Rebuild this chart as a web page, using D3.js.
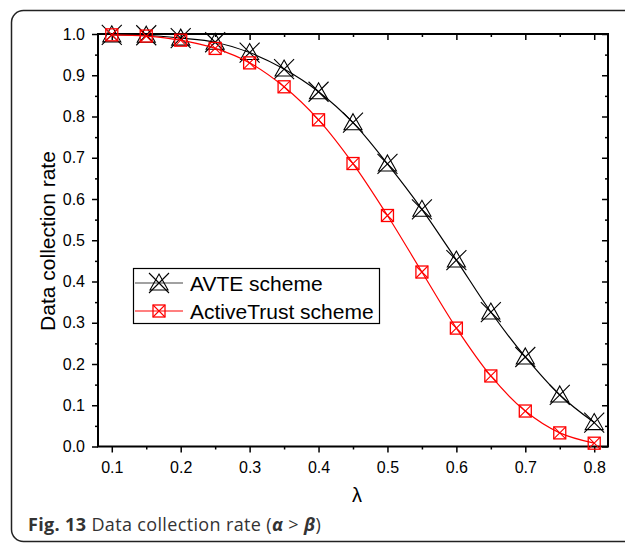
<!DOCTYPE html>
<html>
<head>
<meta charset="utf-8">
<script src="https://cdn.jsdelivr.net/npm/d3@7"></script>
<style>
  html, body { margin: 0; padding: 0; background: #fff; }
  svg { display: block; }
</style>
</head>
<body>
<svg id="chart" width="625" height="544"></svg>
<script>
// λ values on the x axis
const lambdas = [0.1, 0.15, 0.2, 0.25, 0.3, 0.35, 0.4, 0.45, 0.5, 0.55, 0.6, 0.65, 0.7, 0.75, 0.8];
// Data collection rate per scheme
const avteRate = [0.998, 0.997, 0.99, 0.98, 0.955, 0.915, 0.86, 0.785, 0.685, 0.575, 0.452, 0.326, 0.217, 0.125, 0.058];
const activeTrustRate = [0.998, 0.995, 0.985, 0.965, 0.93, 0.872, 0.792, 0.686, 0.56, 0.423, 0.287, 0.171, 0.086, 0.033, 0.008];
const xTickLabels = ["0.1", "0.2", "0.3", "0.4", "0.5", "0.6", "0.7", "0.8"];
const yTickLabels = ["0.0", "0.1", "0.2", "0.3", "0.4", "0.5", "0.6", "0.7", "0.8", "0.9", "1.0"];
const seriesNames = ["AVTE scheme", "ActiveTrust scheme"];

const svg = d3.select("#chart");
const font = "'Liberation Sans', Arial, sans-serif";

// Outer figure frame (rounded corners, runs off the right and bottom)
svg.append("rect")
  .attr("x", 11.5).attr("y", 10.5)
  .attr("width", 640).attr("height", 531)
  .attr("rx", 12).attr("ry", 12)
  .attr("fill", "none").attr("stroke", "#222").attr("stroke-width", 1.5);

const plot = { left: 98, top: 34, right: 608, bottom: 446.5 };

const x = d3.scaleLinear().domain([0.08, 0.82]).range([plot.left, plot.right]);
const y = d3.scaleLinear().domain([0, 1]).range([plot.bottom, plot.top]);

const xMajor = xTickLabels.map(Number);
const xMinor = d3.range(0.15, 0.80, 0.1).map(v => +v.toFixed(2));
const yMajor = yTickLabels.map(Number);
const yMinor = d3.range(0.05, 1.0, 0.1).map(v => +v.toFixed(2));

const axisStyle = g => {
  g.select(".domain").remove();
  g.selectAll("line").attr("stroke", "#000").attr("stroke-width", 1.5);
  g.selectAll("text").attr("font-family", font).attr("font-size", 16).attr("fill", "#000");
};

// Bottom axis: outward ticks
svg.append("g").attr("transform", `translate(0,${plot.bottom})`)
  .call(d3.axisBottom(x).tickValues(xMajor).tickFormat((d, i) => xTickLabels[i]).tickSize(6).tickPadding(9))
  .call(axisStyle);
svg.append("g").attr("transform", `translate(0,${plot.bottom})`)
  .call(d3.axisBottom(x).tickValues(xMinor).tickFormat("").tickSize(3))
  .call(axisStyle);

// Top axis: inward ticks
svg.append("g").attr("transform", `translate(0,${plot.top})`)
  .call(d3.axisBottom(x).tickValues(xMajor).tickFormat("").tickSize(6))
  .call(axisStyle);
svg.append("g").attr("transform", `translate(0,${plot.top})`)
  .call(d3.axisBottom(x).tickValues(xMinor).tickFormat("").tickSize(3))
  .call(axisStyle);

// Left axis: outward ticks
svg.append("g").attr("transform", `translate(${plot.left},0)`)
  .call(d3.axisLeft(y).tickValues(yMajor).tickFormat((d, i) => yTickLabels[i]).tickSize(6).tickPadding(7))
  .call(axisStyle);
svg.append("g").attr("transform", `translate(${plot.left},0)`)
  .call(d3.axisLeft(y).tickValues(yMinor).tickFormat("").tickSize(3))
  .call(axisStyle);

// Right axis: inward ticks
svg.append("g").attr("transform", `translate(${plot.right},0)`)
  .call(d3.axisLeft(y).tickValues(yMajor).tickFormat("").tickSize(6))
  .call(axisStyle);
svg.append("g").attr("transform", `translate(${plot.right},0)`)
  .call(d3.axisLeft(y).tickValues(yMinor).tickFormat("").tickSize(3))
  .call(axisStyle);

// Plot frame
svg.append("rect")
  .attr("x", plot.left).attr("y", plot.top)
  .attr("width", plot.right - plot.left).attr("height", plot.bottom - plot.top)
  .attr("fill", "none").attr("stroke", "#000").attr("stroke-width", 2);

// Marker shapes
function triCross(g, cx, cy, color) {
  const r = 10;
  g.append("path")
    .attr("d", `M${cx},${cy - 9}L${cx + 9},${cy + 7}L${cx - 9},${cy + 7}Z`)
    .attr("fill", "none").attr("stroke", color).attr("stroke-width", 1.1);
  g.append("path")
    .attr("d", `M${cx - r},${cy - r}L${cx + r},${cy + r}M${cx + r},${cy - r}L${cx - r},${cy + r}`)
    .attr("fill", "none").attr("stroke", color).attr("stroke-width", 1.1);
}
function boxCross(g, cx, cy, color) {
  const h = 6;
  g.append("rect")
    .attr("x", cx - h).attr("y", cy - h).attr("width", 2 * h).attr("height", 2 * h)
    .attr("fill", "none").attr("stroke", color).attr("stroke-width", 1.3);
  g.append("path")
    .attr("d", `M${cx - h},${cy - h}L${cx + h},${cy + h}M${cx + h},${cy - h}L${cx - h},${cy + h}`)
    .attr("fill", "none").attr("stroke", color).attr("stroke-width", 1.1);
}

const line = d3.line().curve(d3.curveCatmullRom.alpha(0.5))
  .x(d => x(d[0])).y(d => y(d[1]));

const series = [
  { values: avteRate, color: "#000", marker: triCross },
  { values: activeTrustRate, color: "#ff0000", marker: boxCross }
];

series.forEach(s => {
  const pts = lambdas.map((l, i) => [l, s.values[i]]);
  const g = svg.append("g");
  g.append("path").attr("d", line(pts))
    .attr("fill", "none").attr("stroke", s.color).attr("stroke-width", 1.2);
  pts.forEach(p => s.marker(g, x(p[0]), y(p[1]), s.color));
});

// Legend
const legend = svg.append("g");
legend.append("rect")
  .attr("x", 133.5).attr("y", 268.5).attr("width", 246).attr("height", 55)
  .attr("fill", "#fff").attr("stroke", "#000").attr("stroke-width", 1.2);
series.forEach((s, i) => {
  const cy = 283 + i * 28;
  legend.append("line").attr("x1", 135).attr("x2", 183).attr("y1", cy).attr("y2", cy)
    .attr("stroke", s.color === "#000" ? "#444" : s.color).attr("stroke-width", 1.2);
  s.marker(legend, 159, cy, s.color);
  legend.append("text").attr("x", 190).attr("y", cy + 8)
    .attr("font-family", font).attr("font-size", 21).attr("fill", "#000")
    .text(seriesNames[i]);
});

// Axis titles
svg.append("text")
  .attr("transform", `translate(55,241) rotate(-90)`)
  .attr("text-anchor", "middle")
  .attr("font-family", font).attr("font-size", 21).attr("fill", "#000")
  .text("Data collection rate");
svg.append("text")
  .attr("x", 357).attr("y", 502).attr("text-anchor", "middle")
  .attr("font-family", font).attr("font-size", 20).attr("fill", "#000")
  .text("λ");

// Figure caption
const cap = svg.append("text")
  .attr("x", 28).attr("y", 531)
  .attr("letter-spacing", 0.35)
  .attr("font-family", "'Open Sans', 'Noto Sans', sans-serif").attr("font-size", 18).attr("fill", "#333");
cap.append("tspan").attr("font-weight", "bold").text("Fig. 13");
cap.append("tspan").text(" Data collection rate (");
cap.append("tspan").attr("font-weight", "bold").attr("font-style", "italic").text("α");
cap.append("tspan").text(" > ");
cap.append("tspan").attr("font-weight", "bold").attr("font-style", "italic").text("β");
cap.append("tspan").text(")");
</script>
</body>
</html>
